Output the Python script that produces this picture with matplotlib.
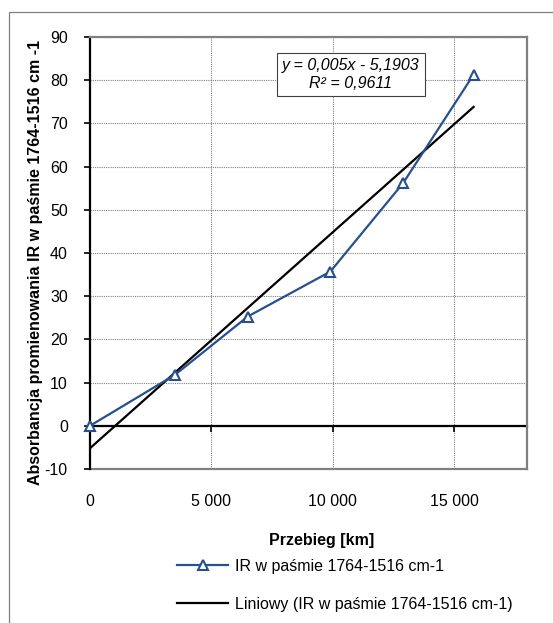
import numpy as np
import matplotlib.pyplot as plt
from matplotlib.patches import Rectangle

plt.rcParams['font.family'] = ['Liberation Sans', 'DejaVu Sans']
plt.rcParams['axes.unicode_minus'] = False

# mileage [km] and IR absorbance in the 1764-1516 cm-1 band
przebieg = [0, 3500, 6500, 9900, 12900, 15800]
absorbancja = [0, 11.8, 25.3, 35.7, 56.2, 81.3]

# linear trend as reported by the fit
slope = 0.005
intercept = -5.1903
r2 = 0.9611

xticks = [0, 5000, 10000, 15000]
xticklabels = ['0', '5 000', '10 000', '15 000']
yticks = list(range(-10, 91, 10))

blue = '#27508f'
gray = '#808080'
fs = 11.5

W, H = 553, 623
fig = plt.figure(figsize=(W / 100, H / 100), dpi=100)
ax = fig.add_axes([90 / W, 1 - 469 / H, (527 - 90) / W, (469 - 37) / H])

# outer chart frame (only top/left fall inside the image)
fig.patches.append(Rectangle((9 / W, -0.1), 2, 1 - 12 / H + 0.1, transform=fig.transFigure,
                             fill=False, edgecolor=gray, lw=0.9))

ax.set_xlim(0, 18000)
ax.set_ylim(-10, 90)

# grid
for xv in xticks[1:]:
    ax.axvline(xv, color=gray, lw=0.8, ls=(0, (1, 1)), zorder=1)
for yv in yticks[1:]:
    ax.axhline(yv, color=gray, lw=0.8, ls=(0, (1, 1)), zorder=1)

# data and trend
ax.plot(przebieg, absorbancja, color=blue, lw=1.6, marker='^', markersize=7,
        markerfacecolor='white', markeredgecolor=blue, markeredgewidth=1.5,
        label='IR w paśmie 1764-1516 cm-1', zorder=4, clip_on=False)
xt = np.array([0, przebieg[-1]])
ax.plot(xt, slope * xt + intercept, color='black', lw=1.6,
        label='Liniowy (IR w paśmie 1764-1516 cm-1)', zorder=3)

# spines: left black, x axis at zero, frame gray
for s in ['top', 'right']:
    ax.spines[s].set_color(gray)
    ax.spines[s].set_linewidth(1.6)
ax.spines['left'].set_color('black')
ax.spines['left'].set_linewidth(1.6)
ax.spines['bottom'].set_position(('data', 0))
ax.spines['bottom'].set_color('black')
ax.spines['bottom'].set_linewidth(1.6)
ax.spines['bottom'].set_zorder(2)
ax.axhline(-10, color=gray, lw=1.6, zorder=2, clip_on=False)

ax.set_yticks(yticks)
ax.tick_params(axis='y', direction='out', length=4, width=1.2, pad=12, labelsize=fs)
ax.set_xticks(xticks)
ax.tick_params(axis='x', direction='out', length=4, width=1.2, labelbottom=False)

sec = ax.secondary_xaxis('bottom')
sec.set_xticks(xticks, xticklabels)
sec.tick_params(length=0, pad=18, labelsize=fs)
sec.spines['bottom'].set_visible(False)

ax.set_ylabel('Absorbancja promienowania IR w paśmie 1764-1516 cm -1',
              fontsize=fs, fontweight='bold')
ax.yaxis.set_label_coords(-0.108, 0.479)
fig.text(322 / W, 1 - 540 / H, 'Przebieg [km]', fontsize=fs, fontweight='bold',
         ha='center', va='center')

ax.text(10750, 81.3, 'y = 0,005x - 5,1903\nR² = 0,9611', fontsize=fs,
        style='italic', ha='center', va='center', linespacing=1.25,
        bbox=dict(boxstyle='square,pad=0.32', facecolor='white', edgecolor='#404040', lw=0.8),
        zorder=5)

h, l = ax.get_legend_handles_labels()
fig.legend(h, l, loc='upper left', bbox_to_anchor=(177 / W, 1 - 559 / H),
           frameon=False, fontsize=fs, handlelength=3.2, handletextpad=0.45,
           labelspacing=1.42, borderpad=0, borderaxespad=0)

fig.savefig('out.png', dpi=100)
